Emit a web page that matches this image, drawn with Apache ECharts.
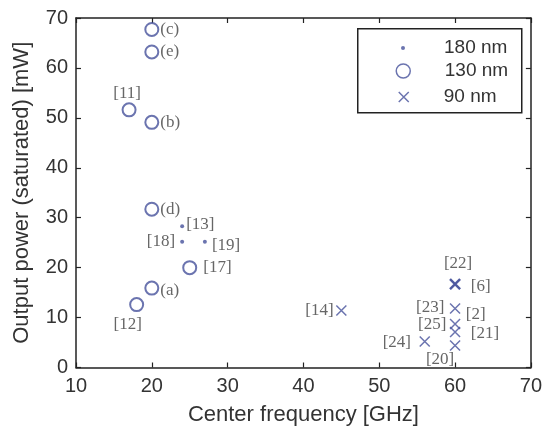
<!DOCTYPE html>
<html><head><meta charset="utf-8">
<script src="https://cdn.jsdelivr.net/npm/echarts@6/dist/echarts.min.js"></script>
<style>html,body{margin:0;padding:0;background:#fff}#c{width:545px;height:431px}</style>
</head><body><div id="c"></div>
<script>
// ---- data ----
const freq180 = [24, 24, 27];
const power180 = [28.3, 25.2, 25.2];
const refs180 = ['[13]', '[18]', '[19]'];

const freq130 = [20, 20, 17, 20, 20, 25, 20, 18];
const power130 = [67.7, 63.2, 51.6, 49.1, 31.7, 20.0, 15.9, 12.6];
const refs130 = ['(c)', '(e)', '[11]', '(b)', '(d)', '[17]', '(a)', '[12]'];

const freq90 = [45, 60, 60, 60, 60, 60, 60, 56, 60];
const power90 = [11.4, 16.7, 16.7, 11.8, 11.8, 8.7, 7.1, 5.2, 4.4];
const refs90 = ['[14]', '[22]', '[6]', '[23]', '[2]', '[25]', '[21]', '[24]', '[20]'];

const seriesNames = ['180 nm', '130 nm', '90 nm'];
const xAxisName = 'Center frequency [GHz]';
const yAxisName = 'Output power (saturated) [mW]';

// ---- label layout (style only) ----
const lay180 = [['right', 2, [0, -1.6]], ['left', 5, [0, 0]], ['right', 5, [0, 4]]];
const lay130 = [['right', 1, [0, 0]], ['right', 1, [0, 0]], ['top', 0, [-2, 0]], ['right', 1, [0, 0]],
                ['right', 1, [0, 0]], ['right', 6, [0, 0]], ['right', 1, [0, 2]], ['bottom', 4, [-9, 0]]];
const lay90 = [['left', 2, [0, 0]], ['top', 6, [3, 0]], ['right', 10, [0, 2.6]], ['left', 5, [0, -0.7]],
               ['right', 5, [0, 5.6]], ['left', 3, [0, 0]], ['right', 10, [0, 1]], ['left', 8, [0, 1]],
               ['bottom', 0, [-15, 0]]];

const C = '#46519b';
const AX = '#222';
const crossPath = 'path://M0,0L10,10M10,0L0,10';
const labelStyle = {fontFamily: 'Liberation Serif', fontSize: 17, color: '#404040'};

function build(fx, py, refs, lay, extra) {
  return fx.map((f, i) => {
    const it = {
      value: [f, py[i]],
      label: Object.assign({show: true, formatter: refs[i], position: lay[i][0],
        distance: lay[i][1], offset: lay[i][2]}, labelStyle)
    };
    if (extra && extra[i]) Object.assign(it, extra[i]);
    return it;
  });
}

const extra90 = [];
extra90[1] = {itemStyle: {borderWidth: 2.6}};
extra90[4] = {itemStyle: {borderColor: 'rgba(0,0,0,0)', color: 'rgba(0,0,0,0)'}};

const legendText = {fontFamily: 'Liberation Sans', fontSize: 19, color: '#333'};

const chart = echarts.init(document.getElementById('c'), null, {renderer: 'canvas'});
chart.setOption({
  animation: false,
  backgroundColor: '#fff',
  grid: {left: 76, right: 14, top: 18, bottom: 60.5, containLabel: false},
  xAxis: [{
    type: 'value', min: 10, max: 70, interval: 10,
    name: xAxisName, nameLocation: 'middle', nameGap: 36.5,
    nameTextStyle: {fontFamily: 'Liberation Sans', fontSize: 22, color: '#333'},
    axisLine: {show: true, onZero: false, lineStyle: {color: AX, width: 1.5}},
    axisTick: {show: true, inside: true, length: 5, lineStyle: {color: AX, width: 1.2}},
    axisLabel: {margin: 9, fontFamily: 'Liberation Sans', fontSize: 20, color: '#333'},
    splitLine: {show: false}
  }, {
    type: 'value', position: 'top', min: 10, max: 70, interval: 10,
    axisLine: {show: true, onZero: false, lineStyle: {color: AX, width: 1.5}},
    axisTick: {show: true, inside: true, length: 5, lineStyle: {color: AX, width: 1.2}},
    axisLabel: {show: false}, splitLine: {show: false}
  }],
  yAxis: [{
    type: 'value', min: 0, max: 70, interval: 10,
    name: yAxisName, nameLocation: 'middle', nameGap: 43,
    nameTextStyle: {fontFamily: 'Liberation Sans', fontSize: 22, color: '#333'},
    axisLine: {show: true, onZero: false, lineStyle: {color: AX, width: 1.5}},
    axisTick: {show: true, inside: true, length: 5, lineStyle: {color: AX, width: 1.2}},
    axisLabel: {margin: 8, fontFamily: 'Liberation Sans', fontSize: 20, color: '#333'},
    splitLine: {show: false}
  }, {
    type: 'value', position: 'right', min: 0, max: 70, interval: 10,
    axisLine: {show: true, onZero: false, lineStyle: {color: AX, width: 1.5}},
    axisTick: {show: true, inside: true, length: 5, lineStyle: {color: AX, width: 1.2}},
    axisLabel: {show: false}, splitLine: {show: false}
  }],
  legend: [{
    data: [{name: seriesNames[0], icon: 'circle'}], orient: 'vertical',
    left: 401, top: 38.5, padding: 0, itemWidth: 4, itemHeight: 4,
    textStyle: Object.assign({padding: [0, 0, 0, 34]}, legendText), selectedMode: false
  }, {
    data: [{name: seriesNames[1], icon: 'circle',
      itemStyle: {color: '#fff', borderColor: C, borderWidth: 1.5}}], orient: 'vertical',
    left: 395.5, top: 61.5, padding: 0, itemWidth: 14, itemHeight: 14,
    itemStyle: {color: '#fff', borderColor: C, borderWidth: 1.5},
    textStyle: Object.assign({padding: [0, 0, 0, 29.5]}, legendText), selectedMode: false
  }, {
    data: [{name: seriesNames[2], icon: crossPath}], orient: 'vertical',
    left: 398, top: 87.5, padding: 0, itemWidth: 10, itemHeight: 10,
    itemStyle: {borderWidth: 1.5, borderColor: C, color: 'rgba(0,0,0,0)'},
    textStyle: Object.assign({padding: [0, 0, 0, 30]}, legendText), selectedMode: false
  }],
  graphic: [{
    type: 'rect', left: 357, top: 28, z: 10,
    shape: {width: 164, height: 84},
    style: {fill: 'rgba(0,0,0,0)', stroke: AX, lineWidth: 1.5}
  }],
  series: [{
    name: seriesNames[0], type: 'scatter', symbol: 'circle', symbolSize: 4,
    itemStyle: {color: C},
    data: build(freq180, power180, refs180, lay180)
  }, {
    name: seriesNames[1], type: 'scatter', symbol: 'emptyCircle', symbolSize: 13,
    itemStyle: {color: C, borderColor: C, borderWidth: 1.5},
    data: build(freq130, power130, refs130, lay130)
  }, {
    name: seriesNames[2], type: 'scatter', symbol: crossPath, symbolSize: 10,
    itemStyle: {color: 'rgba(0,0,0,0)', borderColor: C, borderWidth: 1.5},
    data: build(freq90, power90, refs90, lay90, extra90)
  }]
});
</script>
</body></html>
